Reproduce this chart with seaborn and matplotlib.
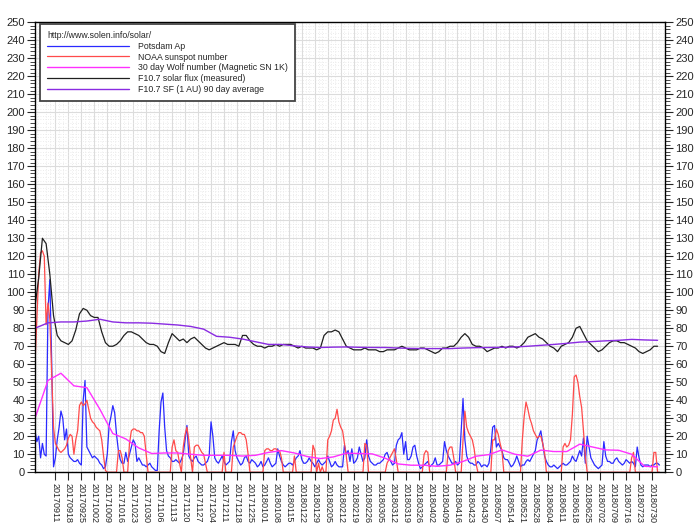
import matplotlib
matplotlib.use("Agg")
import matplotlib.pyplot as plt
import matplotlib.dates as mdates
import matplotlib.ticker as mticker
import pandas as pd
import seaborn as sns

# Daily Potsdam Ap index (from 2017-08-31)
ap = [23, 17, 20, 8, 16, 10, 9, 90, 107, 62, 3, 8, 18, 25, 34, 30, 18, 24, 10, 8,
      7, 6, 6, 7, 5, 4, 40, 51, 14, 12, 10, 8, 9, 8, 7, 5, 4, 2, 3, 10,
      26, 31, 37, 33, 21, 12, 7, 5, 5, 11, 6, 10, 14, 18, 16, 6, 8, 6, 4, 4,
      3, 4, 5, 3, 2, 1, 1, 23, 39, 44, 25, 12, 9, 8, 6, 6, 7, 6, 5, 7,
      10, 18, 26, 9, 7, 6, 8, 9, 6, 5, 4, 4, 5, 6, 9, 28, 20, 8, 6, 5,
      7, 9, 6, 4, 5, 6, 17, 23, 12, 8, 6, 4, 5, 8, 9, 6, 5, 7, 6, 5,
      3, 4, 6, 3, 4, 6, 8, 5, 3, 4, 5, 13, 9, 6, 4, 3, 4, 5, 5, 4,
      6, 8, 9, 12, 7, 5, 5, 6, 8, 6, 5, 3, 5, 7, 5, 4, 5, 6, 9, 6,
      3, 4, 6, 4, 3, 3, 3, 15, 10, 12, 6, 13, 5, 6, 8, 14, 10, 6, 8, 18,
      9, 6, 5, 4, 4, 5, 5, 6, 7, 10, 11, 8, 6, 4, 5, 15, 18, 19, 22, 10,
      17, 7, 7, 9, 14, 15, 9, 5, 2, 3, 4, 5, 6, 3, 4, 5, 8, 4, 4, 5,
      6, 17, 12, 9, 7, 5, 5, 6, 4, 5, 23, 41, 18, 9, 6, 5, 5, 4, 4, 6,
      5, 3, 4, 4, 3, 5, 13, 25, 26, 14, 16, 14, 12, 8, 7, 7, 5, 3, 4, 6,
      9, 6, 3, 4, 4, 6, 7, 6, 8, 10, 12, 18, 20, 23, 16, 9, 6, 4, 3, 3,
      4, 3, 2, 3, 4, 5, 4, 4, 5, 6, 9, 7, 6, 9, 12, 9, 19, 5, 20, 14,
      8, 6, 4, 3, 2, 3, 4, 17, 9, 6, 6, 5, 5, 7, 8, 6, 5, 4, 5, 7,
      6, 5, 6, 5, 3, 14, 8, 4, 3, 4, 4, 4, 3, 4, 4, 5, 5, 4]

# Daily NOAA sunspot number
ssn = [60, 85, 110, 122, 123, 120, 82, 94, 85, 55, 25, 16, 14, 12, 11, 12, 13, 15, 19, 21,
       20, 10, 18, 23, 37, 39, 37, 38, 40, 35, 30, 28, 27, 25, 24, 23, 18, 9, 1, 0,
       0, 0, 0, 0, 0, 12, 12, 8, 0, 0, 0, 16, 23, 24, 24, 23, 23, 22, 22, 20,
       10, 0, 0, 0, 0, 0, 0, 0, 0, 0, 0, 0, 0, 0, 14, 18, 12, 11, 5, 0,
       14, 21, 25, 18, 8, 0, 14, 15, 15, 13, 11, 10, 5, 0, 0, 0, 0, 0, 0, 0,
       0, 0, 11, 0, 0, 0, 0, 14, 17, 20, 22, 22, 21, 21, 18, 10, 0, 0, 0, 0,
       0, 0, 0, 0, 12, 13, 13, 12, 12, 13, 13, 12, 12, 8, 0, 0, 0, 0, 0, 0,
       9, 0, 0, 0, 0, 0, 0, 0, 0, 0, 15, 12, 0, 5, 0, 3, 0, 0, 18, 20,
       23, 29, 30, 35, 28, 25, 23, 16, 9, 0, 0, 0, 0, 0, 0, 0, 0, 0, 16, 15,
       0, 0, 0, 0, 0, 0, 0, 0, 0, 0, 5, 7, 9, 11, 13, 7, 0, 0, 0, 0,
       0, 0, 0, 0, 0, 0, 0, 0, 0, 0, 10, 12, 11, 0, 0, 0, 0, 0, 0, 0,
       0, 0, 0, 12, 14, 14, 8, 0, 0, 0, 0, 18, 34, 25, 22, 20, 18, 13, 5, 0,
       0, 0, 0, 0, 0, 0, 0, 18, 18, 24, 21, 16, 12, 0, 0, 0, 0, 0, 0, 0,
       0, 0, 0, 18, 31, 39, 35, 30, 27, 23, 21, 19, 20, 20, 16, 11, 0, 0, 0, 0,
       0, 0, 0, 0, 0, 14, 16, 14, 15, 18, 32, 53, 54, 50, 42, 36, 23, 9, 0, 0,
       0, 0, 0, 0, 0, 0, 0, 0, 0, 0, 0, 0, 0, 0, 0, 0, 0, 0, 0, 0,
       0, 0, 8, 11, 0, 0, 0, 0, 0, 0, 0, 0, 0, 0, 11, 11, 0, 0]

# F10.7 measured solar flux, every second day
f107 = [92, 108, 130, 127, 110, 87, 76, 73, 72, 71, 73, 79, 88, 91, 90, 87, 86, 86, 78, 72,
        70, 70, 71, 73, 76, 78, 78, 77, 76, 74, 72, 71, 71, 70, 67, 66, 72, 77, 75, 73,
        74, 72, 74, 75, 73, 71, 69, 68, 69, 70, 71, 72, 71, 71, 71, 70, 76, 76, 73, 71,
        70, 70, 69, 70, 70, 71, 70, 71, 71, 71, 70, 69, 70, 69, 69, 69, 68, 69, 76, 78,
        78, 79, 78, 74, 70, 69, 68, 68, 68, 69, 68, 68, 68, 67, 67, 68, 68, 68, 69, 70,
        69, 68, 68, 68, 69, 69, 68, 67, 66, 67, 69, 69, 70, 70, 72, 75, 77, 75, 71, 70,
        70, 69, 67, 68, 69, 69, 70, 69, 70, 70, 69, 70, 72, 75, 76, 77, 75, 74, 72, 70,
        69, 67, 70, 71, 72, 75, 80, 81, 77, 73, 71, 69, 67, 68, 70, 72, 73, 73, 72, 72,
        71, 70, 69, 67, 66, 67, 68, 70, 70]

# weekly samples of the smoothed series
wolf30 = [30, 51, 55, 48, 47, 35, 21.5, 18.5, 13.5, 10.4, 10.7, 10.7, 10, 9.4, 9.4, 9.4, 9, 9.4, 11, 12,
          10.7, 8.7, 7.6, 8.5, 10.6, 10.4, 10.2, 7.8, 4.6, 3.9, 3.9, 3.3, 3.9, 6, 8.9, 9.8, 12.4, 10, 8.9, 12.3,
          11.5, 11.5, 15.6, 14, 12.4, 12.2, 10, 3.3, 3]
f107_avg = [80, 83, 83.5, 83.5, 84, 85, 83.5, 83, 83, 82.8, 82.3, 81.8, 81, 79.5, 75.5, 75, 74, 72.5, 71, 71,
            70.2, 69.6, 69.3, 69.5, 69.6, 69.4, 69.3, 69.3, 69, 68.8, 68.7, 68.7, 68.7, 69, 69.2, 69.3, 69.4, 69.6, 70, 70.5,
            71, 71.6, 72.3, 72.6, 73, 73.3, 73.8, 73.5, 73.3]

start = "2017-08-31"
tick_dates = pd.date_range("2017-09-11", "2018-07-30", freq="7D")

days = pd.date_range(start, periods=len(ap), freq="D")
days2 = pd.date_range(start, periods=len(f107), freq="2D")
weeks = pd.date_range(start, periods=len(wolf30), freq="7D")

sns.set_theme(style="white")
plt.rcParams["font.family"] = ["Liberation Sans", "DejaVu Sans"]

fig = plt.figure(figsize=(7, 5.3), dpi=100)
ax = fig.add_axes([0.05, 0.109, 0.9, 0.849])

sns.lineplot(x=days, y=ap, ax=ax, color="#2a2aff", lw=0.9, label="Potsdam Ap")
sns.lineplot(x=days, y=ssn, ax=ax, color="#ff4a4a", lw=0.9, label="NOAA sunspot number")
sns.lineplot(x=weeks, y=wolf30, ax=ax, color="#ff30ff", lw=1.0, label="30 day Wolf number (Magnetic SN 1K)")
sns.lineplot(x=days2, y=f107, ax=ax, color="#202020", lw=0.9, label="F10.7 solar flux (measured)")
sns.lineplot(x=weeks, y=f107_avg, ax=ax, color="#8a2be2", lw=1.0, label="F10.7 SF (1 AU) 90 day average")

ax.set_ylim(0, 250)
ax.set_xlim(pd.Timestamp("2017-08-31"), pd.Timestamp("2018-08-06"))
ax.set_xlabel("")
ax.set_ylabel("")

ax.yaxis.set_major_locator(mticker.MultipleLocator(10))
ax.yaxis.set_minor_locator(mticker.MultipleLocator(2))
ax.xaxis.set_major_locator(mticker.FixedLocator(mdates.date2num(tick_dates)))
ax.xaxis.set_major_formatter(mdates.DateFormatter("%Y%m%d"))
ax.xaxis.set_minor_locator(mdates.WeekdayLocator(byweekday=(mdates.WE, mdates.FR)))

ax.tick_params(axis="y", which="major", direction="out", length=6, width=0.8,
               labelsize=8, left=True, right=True, labelleft=True, labelright=True, pad=1.5)
ax.tick_params(axis="y", which="minor", direction="out", length=3.5, width=0.6, left=True, right=True)
ax.tick_params(axis="x", which="major", direction="out", length=6, width=0.8, labelsize=6.5,
               bottom=True, pad=2)
ax.tick_params(axis="x", which="minor", length=0)
for lab in ax.get_xticklabels():
    lab.set_rotation(270)
    lab.set_ha("center")
    lab.set_va("top")

ax.grid(which="major", color="#dcdcdc", lw=0.8, ls="-")
ax.grid(which="minor", color="#e6e6e6", lw=0.6, ls=(0, (1, 2)))
ax.set_axisbelow(True)
for s in ax.spines.values():
    s.set_color("black")
    s.set_linewidth(1.0)

leg = ax.legend(loc="upper left", title="http://www.solen.info/solar/", alignment="left",
                fontsize=6.3, title_fontsize=6.3, handlelength=9.4, handletextpad=1.0,
                labelspacing=0.2, borderpad=0.8, borderaxespad=0, fancybox=False, framealpha=1,
                bbox_to_anchor=(0.008, 0.996))
leg.get_frame().set_edgecolor("#444444")
leg.get_frame().set_linewidth(1.3)

fig.savefig("out.png", dpi=100)
